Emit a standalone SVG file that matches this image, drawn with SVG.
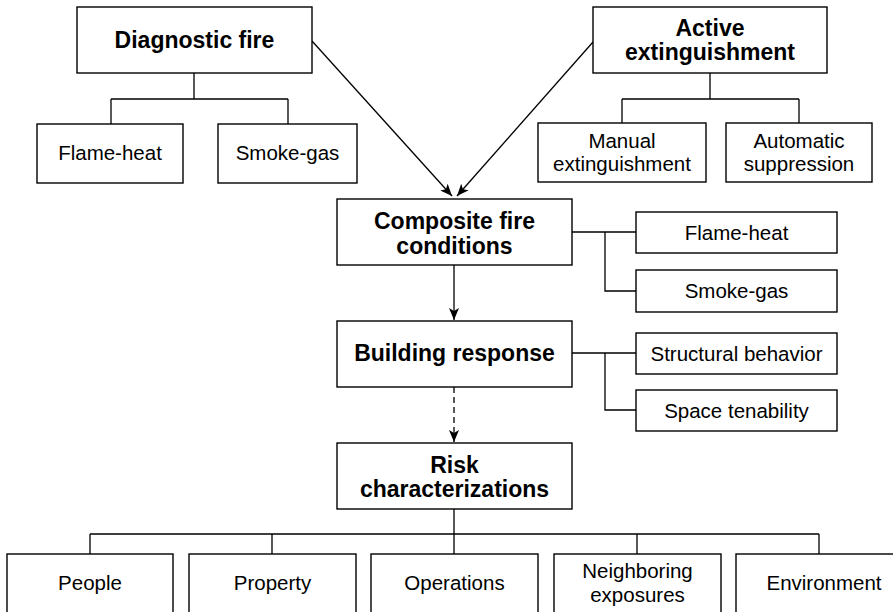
<svg xmlns="http://www.w3.org/2000/svg" width="893" height="612" viewBox="0 0 893 612">
  <defs>
    <marker id="arrow" viewBox="0 0 12 10" refX="12" refY="5" markerWidth="12" markerHeight="10" markerUnits="userSpaceOnUse" orient="auto">
      <path d="M0,0 L12,5 L0,10 L3,5 z" fill="#000"/>
    </marker>
  </defs>
  <style>
    rect { fill: #fff; stroke: #000; stroke-width: 1.4; }
    .wire { fill: none; stroke: #000; stroke-width: 1.3; }
    text { font-family: "Liberation Sans", Arial, Helvetica, sans-serif; fill: #000; text-anchor: middle; }
    .b { font-weight: bold; font-size: 23px; }
    .r { font-size: 20.5px; }
  </style>
  <rect x="0" y="0" width="893" height="612" style="fill:#fff;stroke:none"/>

  <g id="connectors">
    <!-- Diagnostic fire tree -->
    <path class="wire" d="M194,73 V99 M111,99 H288 M111,99 V124 M288,99 V124"/>
    <!-- Active extinguishment tree -->
    <path class="wire" d="M710,73 V99 M622,99 H799 M622,99 V123 M799,99 V123"/>
    <!-- inputs to composite conditions -->
    <path class="wire" d="M312,41 L452,196" marker-end="url(#arrow)"/>
    <path class="wire" d="M593,42 L457,196" marker-end="url(#arrow)"/>
    <!-- composite side branches -->
    <path class="wire" d="M572,232 H636 M605,232 V291 H636"/>
    <!-- composite to building -->
    <path class="wire" d="M454,265 V320" marker-end="url(#arrow)"/>
    <!-- building side branches -->
    <path class="wire" d="M572,353 H636 M605,353 V410 H636"/>
    <!-- building to risk (dashed) -->
    <path class="wire" d="M454,387 V442" stroke-dasharray="6,4" marker-end="url(#arrow)"/>
    <!-- risk outcomes -->
    <path class="wire" d="M454,509 V554 M90,534 H819 M90,534 V554 M272,534 V554 M637,534 V554 M819,534 V554"/>
  </g>

  <g id="diagnostic-fire">
    <rect x="77" y="7" width="235" height="66"/>
    <text class="b" x="194.5" y="48">Diagnostic fire</text>
  </g>
  <g id="diag-flame-heat">
    <rect x="37" y="124" width="146" height="59"/>
    <text class="r" x="110" y="160">Flame-heat</text>
  </g>
  <g id="diag-smoke-gas">
    <rect x="218" y="124" width="139" height="59"/>
    <text class="r" x="287.5" y="160">Smoke-gas</text>
  </g>

  <g id="active-extinguishment">
    <rect x="593" y="7" width="234" height="66"/>
    <text class="b" x="710" y="36">Active</text>
    <text class="b" x="710" y="60">extinguishment</text>
  </g>
  <g id="manual-extinguishment">
    <rect x="538" y="123" width="168" height="59"/>
    <text class="r" x="622" y="148">Manual</text>
    <text class="r" x="622" y="171">extinguishment</text>
  </g>
  <g id="automatic-suppression">
    <rect x="726" y="123" width="146" height="59"/>
    <text class="r" x="799" y="148">Automatic</text>
    <text class="r" x="799" y="171">suppression</text>
  </g>

  <g id="composite-fire-conditions">
    <rect x="337" y="199" width="235" height="66"/>
    <text class="b" x="454.5" y="229">Composite fire</text>
    <text class="b" x="454.5" y="254">conditions</text>
  </g>
  <g id="comp-flame-heat">
    <rect x="636" y="212" width="201" height="41"/>
    <text class="r" x="736.5" y="240">Flame-heat</text>
  </g>
  <g id="comp-smoke-gas">
    <rect x="636" y="270" width="201" height="42"/>
    <text class="r" x="736.5" y="298">Smoke-gas</text>
  </g>

  <g id="building-response">
    <rect x="337" y="321" width="235" height="66"/>
    <text class="b" x="454.5" y="361">Building response</text>
  </g>
  <g id="structural-behavior">
    <rect x="636" y="333" width="201" height="41"/>
    <text class="r" x="736.5" y="361">Structural behavior</text>
  </g>
  <g id="space-tenability">
    <rect x="636" y="390" width="201" height="41"/>
    <text class="r" x="736.5" y="418">Space tenability</text>
  </g>

  <g id="risk-characterizations">
    <rect x="337" y="443" width="235" height="66"/>
    <text class="b" x="454.5" y="473">Risk</text>
    <text class="b" x="454.5" y="497">characterizations</text>
  </g>

  <g id="people">
    <rect x="7" y="554" width="166" height="70"/>
    <text class="r" x="90" y="590">People</text>
  </g>
  <g id="property">
    <rect x="189" y="554" width="167" height="70"/>
    <text class="r" x="272.5" y="590">Property</text>
  </g>
  <g id="operations">
    <rect x="371" y="554" width="167" height="70"/>
    <text class="r" x="454.5" y="590">Operations</text>
  </g>
  <g id="neighboring-exposures">
    <rect x="554" y="554" width="167" height="70"/>
    <text class="r" x="637.5" y="578">Neighboring</text>
    <text class="r" x="637.5" y="602">exposures</text>
  </g>
  <g id="environment">
    <rect x="736" y="554" width="167" height="70"/>
    <text class="r" x="824" y="590">Environment</text>
  </g>
</svg>
